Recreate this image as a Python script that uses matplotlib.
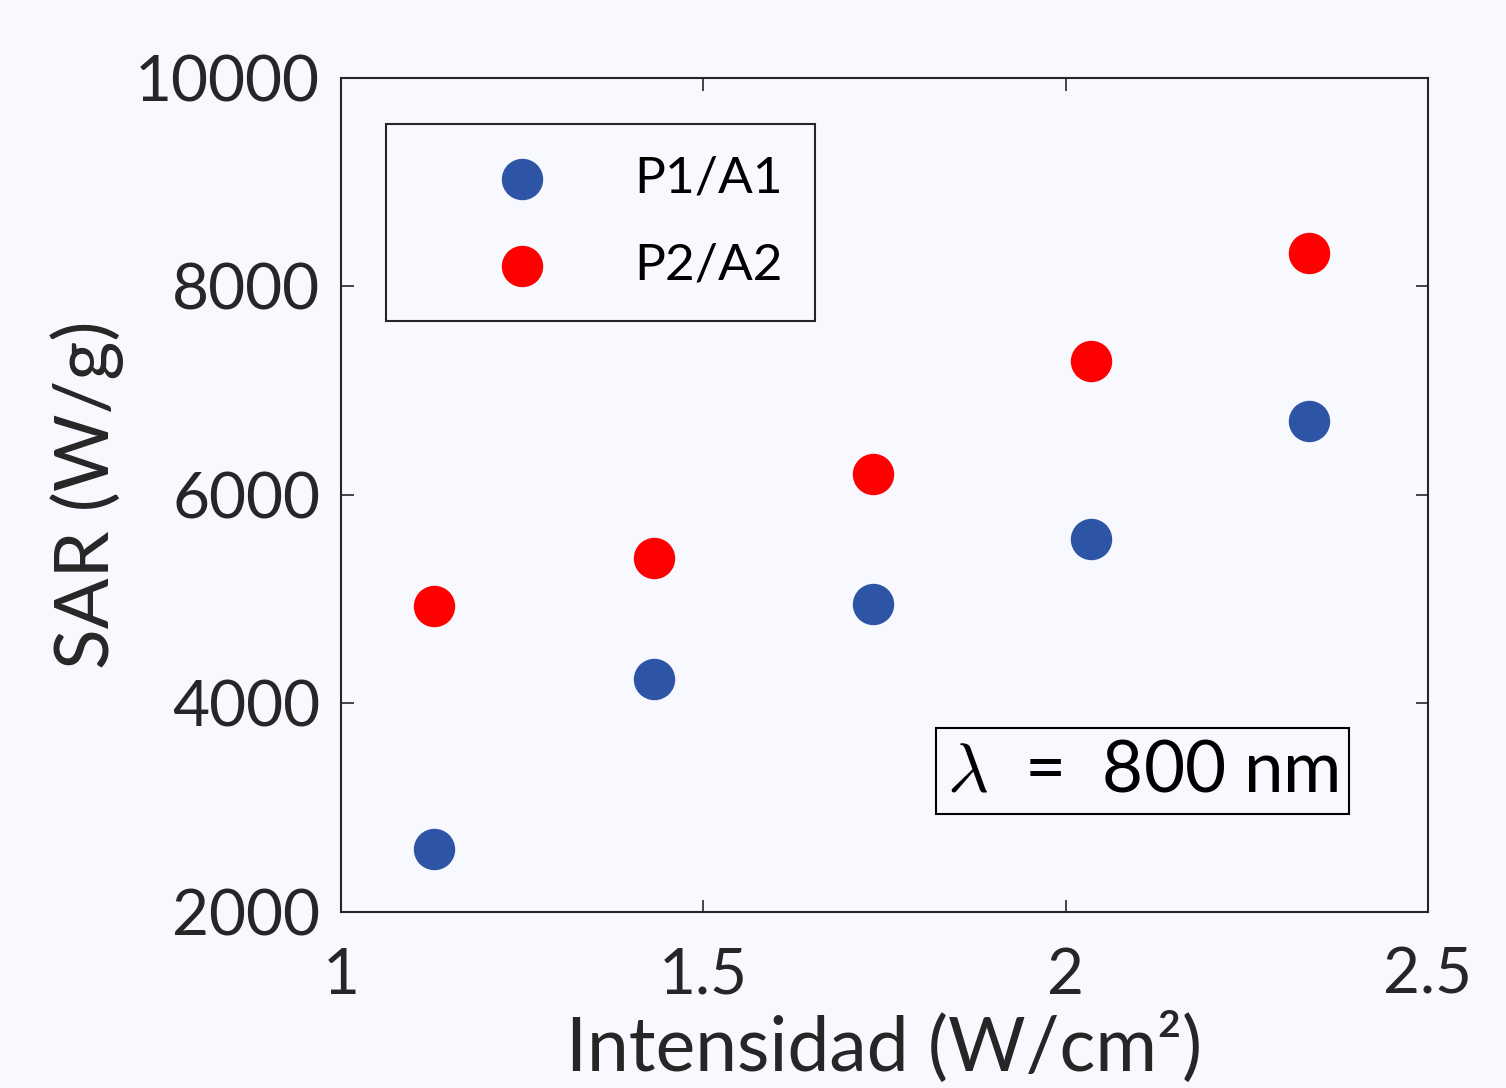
import matplotlib
matplotlib.use("Agg")
import matplotlib.pyplot as plt

# Datos
intensidad = [1.128, 1.432, 1.734, 2.035, 2.336]
sar_p1a1 = [2605, 4235, 4955, 5578, 6710]
sar_p2a2 = [4935, 5396, 6202, 7286, 8322]
etiquetas = ["P1/A1", "P2/A2"]

fondo = "#F7F9FF"
azul = "#2E55A5"
rojo = "#FF0000"
gris = "#262626"

plt.rcParams["font.family"] = ["Lato", "DejaVu Sans"]
plt.rcParams["mathtext.fontset"] = "cm"

fig = plt.figure(figsize=(15.06, 10.88), dpi=100, facecolor=fondo)
ax = fig.add_axes([0.2264, 0.1618, 0.7218, 0.7665], facecolor=fondo)

ax.scatter(intensidad, sar_p1a1, s=830, color=azul, edgecolors=azul, label=etiquetas[0], zorder=3)
ax.scatter(intensidad, sar_p2a2, s=830, color=rojo, edgecolors=rojo, label=etiquetas[1], zorder=3)

ax.set_xlim(1, 2.5)
ax.set_ylim(2000, 10000)
ax.set_xticks([1, 1.5, 2, 2.5])
ax.set_xticklabels(["1", "1.5", "2", "2.5"])
ax.set_yticks([2000, 4000, 6000, 8000, 10000])

ax.tick_params(direction="in", length=9, width=1.2, colors=gris, labelsize=46,
               top=True, right=True)
ax.tick_params(axis="x", pad=25)
ax.tick_params(axis="y", pad=15)
for sp in ax.spines.values():
    sp.set_linewidth(1.5)
    sp.set_color(gris)

ax.set_xlabel("Intensidad (W/cm²)", fontsize=54, color=gris, labelpad=5)
ax.set_ylabel("SAR (W/g)", fontsize=54, color=gris, labelpad=8)

leg = ax.legend(loc="upper left", bbox_to_anchor=(0.0414, 0.945), borderaxespad=0,
                fontsize=37, frameon=True, fancybox=False, framealpha=1,
                facecolor=fondo, edgecolor=gris, borderpad=0.62, handlelength=4.07,
                handletextpad=0.15, labelspacing=0.8, scatterpoints=1)
leg.get_frame().set_linewidth(1.5)
for t in leg.get_texts():
    t.set_color("black")

ax.text(0.7378, 0.169, r"$\lambda$  =  800 nm", transform=ax.transAxes,
        fontsize=51, ha="center", va="center", color="black",
        bbox=dict(boxstyle="square,pad=0.15", facecolor=fondo, edgecolor="black", linewidth=1.5))

fig.savefig("out.png", dpi=100, facecolor=fondo)
